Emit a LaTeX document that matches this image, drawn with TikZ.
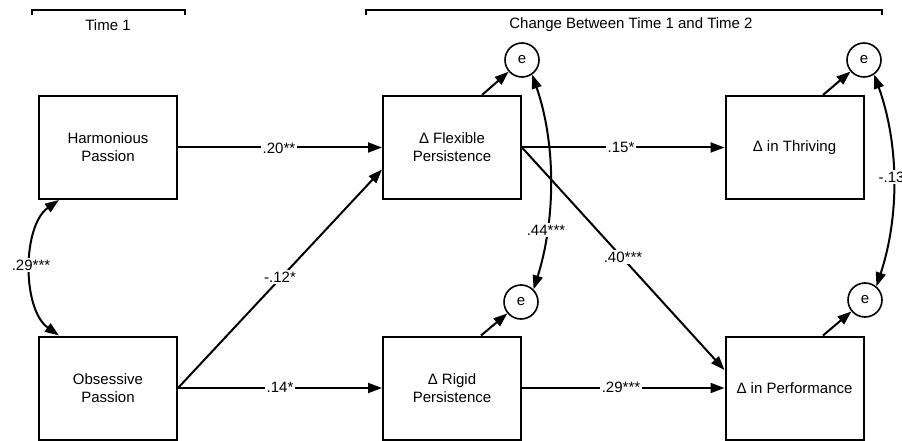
\documentclass[tikz,border=0pt]{standalone}
\usepackage{fontspec}
\setmainfont{Liberation Sans}
\usetikzlibrary{arrows.meta}
\begin{document}
\begin{tikzpicture}[x=1pt,y=-1pt,
  box/.style={draw,line width=2pt,minimum width=138pt,minimum height=103pt,align=center,font=\fontsize{15}{18}\selectfont,inner sep=0pt},
  err/.style={draw,circle,line width=1.6pt,minimum size=34pt,inner sep=0pt,font=\fontsize{15}{18}\selectfont},
  arr/.style={line width=2pt,-{Triangle[length=14pt,width=10pt]}},
  dbl/.style={line width=2pt,{Triangle[length=14pt,width=10pt]}-{Triangle[length=14pt,width=10pt]}},
  lab/.style={fill=white,inner sep=1.5pt,font=\fontsize{15}{18}\selectfont},
  brk/.style={line width=1.6pt},
  ttl/.style={font=\fontsize{15}{18}\selectfont}
]
\useasboundingbox (0,0) rectangle (902,441);
\fill[white] (0,0) rectangle (902,441);

% brackets
\draw[brk] (32,15) -- (32,10) -- (185,10) -- (185,15);
\node[ttl] (t1) at (108,25) {Time 1};
\draw[brk] (366,15) -- (366,10) -- (882,10) -- (882,15);
\node[ttl] (t2) at (631,25) {Change Between Time 1 and Time 2};

% boxes
\node[box] (hp) at (108,147.5) {Harmonious\\Passion};
\node[box] (ob) at (108,388) {Obsessive\\Passion};
\node[box] (fp) at (452,147.5) {Δ Flexible\\Persistence};
\node[box] (rp) at (452,388) {Δ Rigid\\Persistence};
\node[box] (th) at (794.5,147.5) {Δ in Thriving};
\node[box] (pf) at (794.5,388) {Δ in Performance};

% error terms
\node[err] (eF) at (522,60) {e};
\node[err] (eR) at (521,302) {e};
\node[err] (eT) at (864,60) {e};
\node[err] (eP) at (865,300) {e};

% paths
\draw[arr] (hp.east) -- (fp.west);
\draw[arr] (ob.east) -- ([yshift=-22pt]fp.west);
\draw[arr] (ob.east) -- (rp.west);
\draw[arr] (fp.east) -- (th.west);
\draw[arr] (fp.east) -- ([yshift=18pt]pf.west);
\draw[arr] (rp.east) -- (pf.west);

% residual arrows
\draw[arr] ([xshift=30pt]fp.north) -- (eF);
\draw[arr] ([xshift=29pt]rp.north) -- (eR);
\draw[arr] ([xshift=28.5pt]th.north) -- (eT);
\draw[arr] ([xshift=28.5pt]pf.north) -- (eP);

% covariances
\draw[dbl] ([xshift=-49pt]hp.south) .. controls +(-37,26) and +(-37,-26) .. ([xshift=-49pt]ob.north);
\draw[dbl] (eF.-55) .. controls +(24,70) and +(22,-70) .. (eR.45);
\draw[dbl] (eT.-55) .. controls +(25,70) and +(23,-70) .. (eP.50);

% labels
\node[lab] (l1) at (279,148) {.20**};
\node[lab] (l2) at (280,277) {-.12*};
\node[lab] (l3) at (280,387) {.14*};
\node[lab] (l4) at (621,147) {.15*};
\node[lab] (l5) at (623,257) {.40***};
\node[lab] (l6) at (621,387) {.29***};
\node[lab] (l7) at (31,265) {.29***};
\node[lab] (l8) at (546,230) {.44***};
\node[lab,anchor=west] (l9) at (877,177) {-.13};
\end{tikzpicture}
\end{document}
